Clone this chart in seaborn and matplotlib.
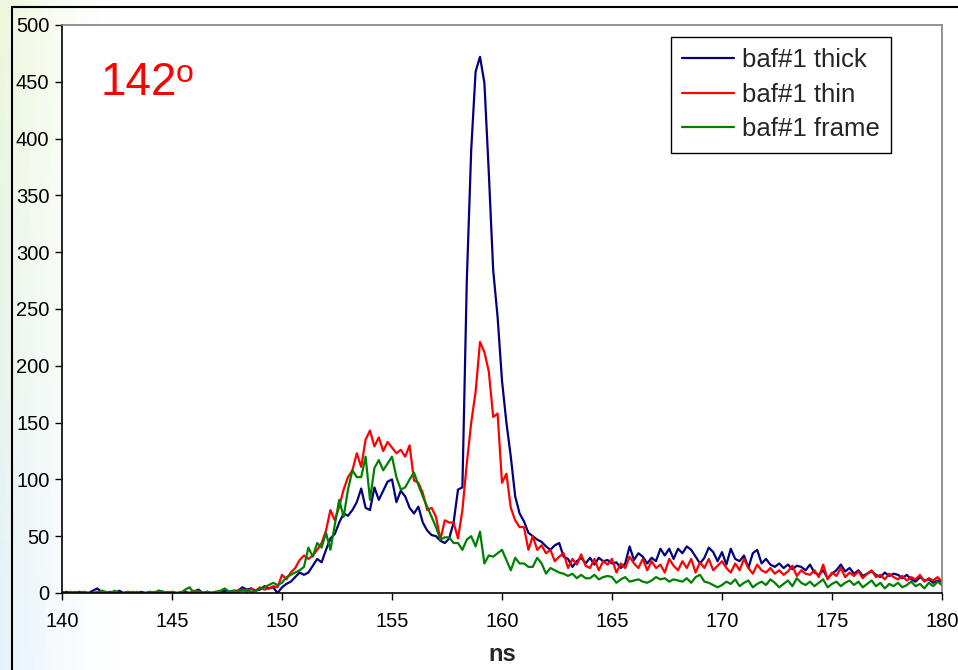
import numpy as np
import pandas as pd
import matplotlib
matplotlib.use("Agg")
import matplotlib.pyplot as plt
import seaborn as sns
from matplotlib.lines import Line2D

# Time-of-flight spectra at 142 degrees, sampled every 0.2 ns from 140 to 180 ns
t_start, t_step, n_pts = 140.0, 0.2, 201

thick = [
    0, 1, 0, 0, 1, 0, 0, 2, 4, 1,
    0, 1, 0, 2, 0, 1, 0, 0, 1, 0,
    1, 0, 2, 1, 0, 1, 0, 0, 1, 0,
    1, 3, 0, 1, 0, 1, 0, 2, 1, 2,
    2, 5, 3, 4, 2, 3, 6, 4, 5, 0,
    5, 8, 10, 14, 18, 16, 18, 24, 30, 27,
    38, 48, 52, 62, 70, 68, 73, 80, 92, 75,
    73, 93, 82, 90, 98, 100, 80, 90, 85, 75,
    70, 76, 62, 55, 51, 50, 46, 44, 48, 62,
    91, 93, 275, 390, 459, 472, 449, 370, 284, 243,
    187, 150, 120, 85, 70, 63, 53, 50, 47, 45,
    41, 38, 42, 44, 32, 30, 23, 28, 31, 26,
    31, 25, 31, 28, 29, 26, 27, 22, 26, 41,
    29, 35, 32, 26, 31, 28, 39, 33, 39, 30,
    39, 35, 41, 38, 32, 26, 31, 40, 36, 28,
    36, 25, 39, 30, 28, 33, 22, 35, 38, 26,
    30, 25, 23, 26, 22, 25, 21, 24, 23, 20,
    25, 18, 16, 20, 13, 17, 20, 25, 19, 22,
    17, 20, 15, 17, 19, 16, 14, 18, 15, 17,
    16, 13, 16, 12, 10, 14, 11, 12, 9, 11,
    10,
]

thin = [
    0, 0, 1, 0, 0, 1, 0, 0, 1, 0,
    0, 0, 1, 0, 0, 0, 1, 0, 0, 0,
    0, 1, 0, 0, 1, 0, 0, 1, 0, 0,
    2, 0, 0, 1, 0, 1, 0, 0, 1, 1,
    2, 3, 1, 4, 2, 5, 3, 4, 6, 5,
    16, 12, 18, 22, 29, 33, 30, 33, 38, 44,
    55, 73, 64, 76, 91, 102, 108, 123, 111, 135,
    143, 129, 137, 125, 133, 128, 123, 126, 120, 130,
    99, 97, 88, 73, 75, 67, 47, 64, 62, 62,
    48, 73, 114, 150, 177, 221, 212, 195, 155, 158,
    97, 105, 75, 64, 58, 58, 38, 50, 38, 42,
    35, 38, 28, 32, 35, 22, 30, 25, 34, 24,
    22, 30, 20, 28, 25, 30, 18, 26, 22, 32,
    26, 22, 30, 20, 28, 22, 25, 18, 30, 24,
    20, 28, 22, 30, 18, 27, 22, 30, 20, 24,
    28, 22, 18, 26, 20, 30, 22, 17, 25, 20,
    18, 22, 17, 20, 16, 19, 24, 15, 20, 17,
    16, 20, 14, 25, 12, 18, 15, 22, 14, 18,
    15, 19, 13, 17, 20, 14, 16, 12, 17, 14,
    12, 15, 11, 14, 12, 16, 10, 13, 11, 14,
    10,
]

frame = [
    1, 0, 0, 1, 0, 1, 0, 0, 0, 2,
    1, 0, 2, 0, 0, 1, 0, 1, 0, 0,
    1, 0, 2, 1, 0, 1, 0, 0, 3, 5,
    0, 2, 0, 1, 0, 1, 2, 4, 1, 2,
    1, 2, 3, 1, 2, 4, 5, 7, 9, 7,
    9, 14, 16, 18, 20, 23, 40, 32, 44, 40,
    53, 38, 60, 82, 67, 91, 108, 102, 102, 120,
    82, 110, 117, 108, 114, 120, 102, 91, 93, 100,
    106, 95, 85, 76, 67, 58, 47, 49, 49, 44,
    44, 38, 47, 50, 41, 54, 26, 33, 32, 35,
    38, 29, 20, 31, 26, 26, 23, 23, 31, 26,
    17, 22, 20, 18, 17, 15, 17, 13, 16, 13,
    13, 16, 12, 14, 15, 14, 9, 12, 14, 10,
    11, 12, 10, 9, 11, 14, 12, 13, 10, 12,
    11, 10, 13, 9, 14, 16, 10, 9, 7, 5,
    7, 10, 8, 12, 6, 9, 11, 5, 8, 10,
    7, 12, 9, 5, 8, 11, 6, 13, 9, 7,
    10, 6, 9, 12, 5, 8, 10, 6, 9, 11,
    7, 10, 5, 8, 11, 6, 9, 4, 8, 6,
    9, 5, 7, 10, 6, 8, 4, 9, 6, 10,
    7,
]

series_names = ["baf#1 thick", "baf#1 thin", "baf#1 frame"]
series_colors = ["#000080", "#ff0000", "#008000"]
x_ticks = [140, 145, 150, 155, 160, 165, 170, 175, 180]
y_ticks = [0, 50, 100, 150, 200, 250, 300, 350, 400, 450, 500]

time_ns = np.round(t_start + t_step * np.arange(n_pts), 1)
df = pd.DataFrame({
    "ns": np.tile(time_ns, 3),
    "counts": np.concatenate([thick, thin, frame]),
    "series": np.repeat(series_names, n_pts),
})

sns.set_theme(style="white")
plt.rcParams["font.family"] = ["Liberation Sans", "DejaVu Sans"]

fig = plt.figure(figsize=(9.58, 6.70), dpi=100)

# faint slide backdrop on the left edge
bg = fig.add_axes([0, 0, 1, 1], zorder=-10)
h, w = 134, 192
yy, xx = np.mgrid[0:h, 0:w] / np.array([h, w])[:, None, None]
fade = np.clip(1 - xx / 0.12, 0, 1) ** 1.5
img = np.ones((h, w, 3))
green = np.array([0.93, 0.97, 0.86])
blue = np.array([0.90, 0.95, 0.99])
mix = (1 - yy)[..., None] * green + yy[..., None] * blue
img = img * (1 - fade[..., None]) + mix * fade[..., None]
bg.imshow(img, extent=[0, 1, 0, 1], aspect="auto", origin="upper")
bg.set_axis_off()
# chart-area border
bg.plot([12 / 958, 12 / 958], [0, 1 - 7 / 670], color="black", lw=1.5)
bg.plot([12 / 958, 1], [1 - 7 / 670, 1 - 7 / 670], color="black", lw=1.5)
bg.set_xlim(0, 1)
bg.set_ylim(0, 1)

ax = fig.add_axes([62 / 958, 1 - 593 / 670, 880 / 958, 568 / 670])
ax.set_facecolor("white")
sns.lineplot(data=df, x="ns", y="counts", hue="series", hue_order=series_names,
             palette=series_colors, linewidth=1.6, ax=ax, legend=False)

ax.set_xlim(140, 180)
ax.set_ylim(0, 500)
ax.set_xticks(x_ticks)
ax.set_yticks(y_ticks)
ax.tick_params(axis="both", direction="out", length=5, width=1, color="black",
               labelsize=14.5, labelcolor="black", pad=4, bottom=True, left=True)
ax.tick_params(axis="x", pad=9)
for side in ["left", "bottom"]:
    ax.spines[side].set_color("black")
    ax.spines[side].set_linewidth(1.2)
for side in ["top", "right"]:
    ax.spines[side].set_color("#808080")
    ax.spines[side].set_linewidth(1.2)
ax.set_xlabel("ns", fontsize=17, fontweight="bold", labelpad=8)
ax.set_ylabel("")

handles = [Line2D([], [], color=c, lw=1.6) for c in series_colors]
leg = ax.legend(handles, series_names, loc="upper right",
                bbox_to_anchor=(0.942, 0.979), borderaxespad=0,
                fontsize=18.5, frameon=True, fancybox=False, framealpha=1,
                edgecolor="black", handlelength=2.0, labelspacing=0.4,
                handletextpad=0.3, borderpad=0.45)
leg.get_frame().set_linewidth(1.0)

ax.text(100 / 958, 1 - 95 / 670, "142", transform=fig.transFigure,
        color="#ff0000", fontsize=33, ha="left", va="baseline")
ax.text(176 / 958, 1 - 82 / 670, "o", transform=fig.transFigure,
        color="#ff0000", fontsize=23, ha="left", va="baseline")

fig.savefig("out.png", dpi=100)
